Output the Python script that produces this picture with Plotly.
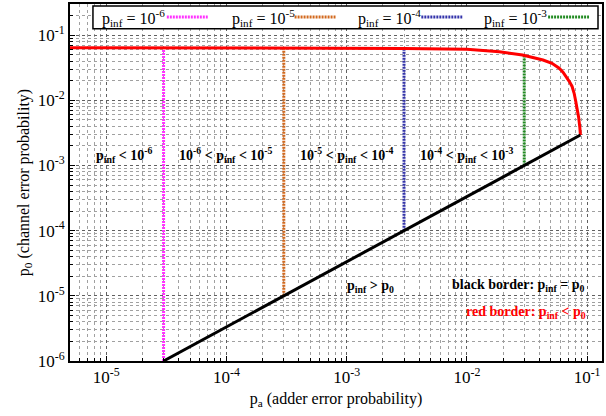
import numpy as np
import plotly.graph_objects as go

# ---- data ----
# black border: p_inf = p_0
black_pa = [3e-5, 3e-4, 3e-3, 3e-2, 0.088]
black_p0 = [1e-6, 1e-5, 1e-4, 1e-3, 2.93e-3]

# red border: p_inf < p_0
red_pa = [5e-6, 1e-4, 1e-3, 3e-3, 1e-2, 1.86e-2, 2.9e-2, 3.5e-2, 4.3e-2, 5.1e-2,
          5.86e-2, 6.3e-2, 6.7e-2, 7.1e-2, 7.5e-2, 7.8e-2, 8.05e-2, 8.3e-2, 8.5e-2, 8.7e-2, 0.088]
red_p0 = [0.064, 0.064, 0.0635, 0.0625, 0.0605, 0.0556, 0.0495, 0.0457, 0.0415, 0.037,
          0.031, 0.027, 0.023, 0.0195, 0.0163, 0.0128, 0.0096, 0.0072, 0.0055, 0.0038, 2.93e-3]

# iso-p_inf vertical lines
iso_names = ["p<sub>inf</sub> = 10<sup>-6</sup>", "p<sub>inf</sub> = 10<sup>-5</sup>",
             "p<sub>inf</sub> = 10<sup>-4</sup>", "p<sub>inf</sub> = 10<sup>-3</sup>"]
iso_pa = [3e-5, 3e-4, 3e-3, 3e-2]
iso_bottom = [1e-6, 1e-5, 1e-4, 1e-3]
iso_top = [0.064, 0.064, 0.0625, 0.048]
iso_colors = ["#ff33ff", "#d2691e", "#3333aa", "#228b22"]

x_ticks = [1e-5, 1e-4, 1e-3, 1e-2, 1e-1]
x_ticktext = ["10<sup>-5</sup>", "10<sup>-4</sup>", "10<sup>-3</sup>", "10<sup>-2</sup>", "10<sup>-1</sup>"]
y_ticks = [1e-6, 1e-5, 1e-4, 1e-3, 1e-2, 1e-1]
y_ticktext = ["10<sup>-6</sup>", "10<sup>-5</sup>", "10<sup>-4</sup>", "10<sup>-3</sup>", "10<sup>-2</sup>", "10<sup>-1</sup>"]

# region labels (text, x, y, color)
labels = [
    ("p<sub>inf</sub> &lt; 10<sup>-6</sup>", 10**-4.85, 10**-2.84, "black"),
    ("10<sup>-6</sup> &lt; p<sub>inf</sub> &lt; 10<sup>-5</sup>", 1e-4, 10**-2.84, "black"),
    ("10<sup>-5</sup> &lt; p<sub>inf</sub> &lt; 10<sup>-4</sup>", 1e-3, 10**-2.84, "black"),
    ("10<sup>-4</sup> &lt; p<sub>inf</sub> &lt; 10<sup>-3</sup>", 1e-2, 10**-2.84, "black"),
    ("p<sub>inf</sub> &gt; p<sub>0</sub>", 10**-2.8, 10**-4.86, "black"),
    ("black border: p<sub>inf</sub> = p<sub>0</sub>", 10**-1.57, 10**-4.84, "black"),
    ("red border: p<sub>inf</sub> &lt; p<sub>0</sub>", 10**-1.51, 10**-5.25, "#ff0000"),
]

FONT = "Liberation Serif, Times New Roman, serif"

fig = go.Figure()

for name, xa, yb, yt, c in zip(iso_names, iso_pa, iso_bottom, iso_top, iso_colors):
    fig.add_trace(go.Scatter(x=[xa, xa], y=[yb, yt], mode="lines", name=name,
                             line=dict(color=c, width=3, dash="2px,1px"),
                             showlegend=False))

fig.add_trace(go.Scatter(x=red_pa, y=red_p0, mode="lines",
                         line=dict(color="#ff0000", width=3), showlegend=False))
fig.add_trace(go.Scatter(x=black_pa, y=black_p0, mode="lines", line=dict(color="black", width=3),
                         showlegend=False))

for txt, x, y, c in labels:
    fig.add_annotation(x=np.log10(x), y=np.log10(y), text="<b>" + txt + "</b>", showarrow=False,
                       font=dict(family=FONT, size=14, color=c), xanchor="center", yanchor="middle")

# manual legend (text followed by line sample, gnuplot style)
fig.add_shape(type="rect", xref="paper", yref="paper", x0=(93 - 70) / 533, x1=(599 - 70) / 533,
              y0=(361 - 27) / 359, y1=(361 - 4) / 359, line=dict(color="black", width=1.5),
              fillcolor="white", layer="above")
legend_text_x = [100, 230, 357, 483]
legend_sample_x = [167, 295, 422, 549]
for name, tx, sx, c in zip(iso_names, legend_text_x, legend_sample_x, iso_colors):
    fig.add_annotation(xref="paper", yref="paper", x=(tx - 70) / 533, y=(361 - 16) / 359,
                       text=name, showarrow=False, xanchor="left", yanchor="middle",
                       font=dict(family=FONT, size=16, color="black"))
    fig.add_shape(type="line", xref="paper", yref="paper", x0=(sx - 70) / 533, x1=(sx + 41 - 70) / 533,
                  y0=(361 - 15) / 359, y1=(361 - 15) / 359,
                  line=dict(color=c, width=3, dash="2px,1px"), layer="above")

axis_common = dict(type="log", showline=True, linecolor="black", linewidth=2, mirror=True,
                   ticks="inside", ticklen=5, tickcolor="black",
                   showgrid=True, gridcolor="#606060", griddash="3px,3px", gridwidth=1,
                   tickfont=dict(family=FONT, size=17, color="black"), zeroline=False)

x_minor = [k * 10.0 ** e for e in range(-6, 0) for k in range(2, 10)]
y_minor = [k * 10.0 ** e for e in range(-6, 0) for k in range(2, 10)]

fig.update_xaxes(**axis_common, range=[np.log10(5e-6), np.log10(0.133)],
                 tickvals=x_ticks, ticktext=x_ticktext,
                 minor=dict(tickvals=x_minor, showgrid=True, gridcolor="#a0a0a0", griddash="3px,3px",
                            gridwidth=1, ticks="inside", ticklen=3, tickcolor="black"),
                 title=dict(text="p<sub>a</sub> (adder error probability)",
                            font=dict(family=FONT, size=16, color="black"), standoff=6))
fig.update_yaxes(**axis_common, range=[-6, np.log10(0.3)],
                 tickvals=y_ticks, ticktext=y_ticktext,
                 minor=dict(tickvals=y_minor, showgrid=True, gridcolor="#a0a0a0", griddash="3px,3px",
                            gridwidth=1, ticks="inside", ticklen=3, tickcolor="black"),
                 title=dict(text="p<sub>0</sub> (channel error probability)",
                            font=dict(family=FONT, size=16, color="black"), standoff=4))

fig.update_layout(width=606, height=416, margin=dict(l=70, r=3, t=2, b=55),
                  plot_bgcolor="white", paper_bgcolor="white", showlegend=False,
                  font=dict(family=FONT, color="black"))

fig.write_html("out.html")
